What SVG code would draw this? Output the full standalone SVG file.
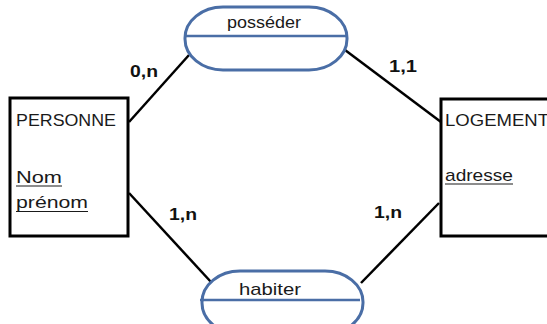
<svg xmlns="http://www.w3.org/2000/svg" width="547" height="324" viewBox="0 0 547 324">
<style>
.ent{fill:#fff;stroke:#000;stroke-width:3}
.rel{fill:#fff;stroke:#4a6ea6;stroke-width:3}
.mid{stroke:#4a6ea6;stroke-width:2.5}
.lnk{stroke:#000;stroke-width:2.5;fill:none}
.t{font-family:"Liberation Sans",Arial,sans-serif;font-size:17px;fill:#1a1a1a}
.c{font-family:"Liberation Sans",Arial,sans-serif;font-size:17px;font-weight:bold;fill:#111}
.u{stroke:#1a1a1a;stroke-width:1.2}
</style>
<rect width="547" height="324" fill="#fff"/>
<g id="connectors">
<line class="lnk" x1="129" y1="122" x2="189" y2="55"/>
<line class="lnk" x1="345" y1="50" x2="441" y2="122"/>
<line class="lnk" x1="129" y1="193" x2="211" y2="282"/>
<line class="lnk" x1="361" y1="283" x2="439" y2="203"/>
</g>
<g id="personne">
<rect class="ent" x="10" y="98" width="118" height="138"/>
<text class="t" x="16" y="126" textLength="100" lengthAdjust="spacingAndGlyphs">PERSONNE</text>
<text class="t" x="16" y="183" textLength="46" lengthAdjust="spacingAndGlyphs">Nom</text>
<line class="u" x1="16" y1="186" x2="62" y2="186"/>
<text class="t" x="16" y="208" textLength="72" lengthAdjust="spacingAndGlyphs">prénom</text>
<line class="u" x1="16" y1="211.5" x2="88" y2="211.5"/>
</g>
<g id="logement">
<rect class="ent" x="441" y="99" width="120" height="137"/>
<text class="t" x="445" y="126" textLength="104" lengthAdjust="spacingAndGlyphs">LOGEMENT</text>
<text class="t" x="445" y="181" textLength="68" lengthAdjust="spacingAndGlyphs">adresse</text>
<line class="u" x1="445" y1="184" x2="513" y2="184"/>
</g>
<g id="posseder">
<rect class="rel" x="185" y="7" width="162" height="63" rx="38" ry="31"/>
<line class="mid" x1="186" y1="36" x2="346" y2="36"/>
<text class="t" x="264" y="28" text-anchor="middle" textLength="74" lengthAdjust="spacingAndGlyphs">posséder</text>
</g>
<g id="habiter">
<rect class="rel" x="202" y="271" width="161" height="63" rx="38" ry="31"/>
<line class="mid" x1="200" y1="300" x2="360" y2="300"/>
<text class="t" x="270" y="295" text-anchor="middle" textLength="62" lengthAdjust="spacingAndGlyphs">habiter</text>
</g>
<g id="labels">
<text class="c" x="130" y="77" textLength="28" lengthAdjust="spacingAndGlyphs">0,n</text>
<text class="c" x="389" y="72" textLength="28" lengthAdjust="spacingAndGlyphs">1,1</text>
<text class="c" x="169" y="220" textLength="28" lengthAdjust="spacingAndGlyphs">1,n</text>
<text class="c" x="374" y="218" textLength="28" lengthAdjust="spacingAndGlyphs">1,n</text>
</g>
</svg>
